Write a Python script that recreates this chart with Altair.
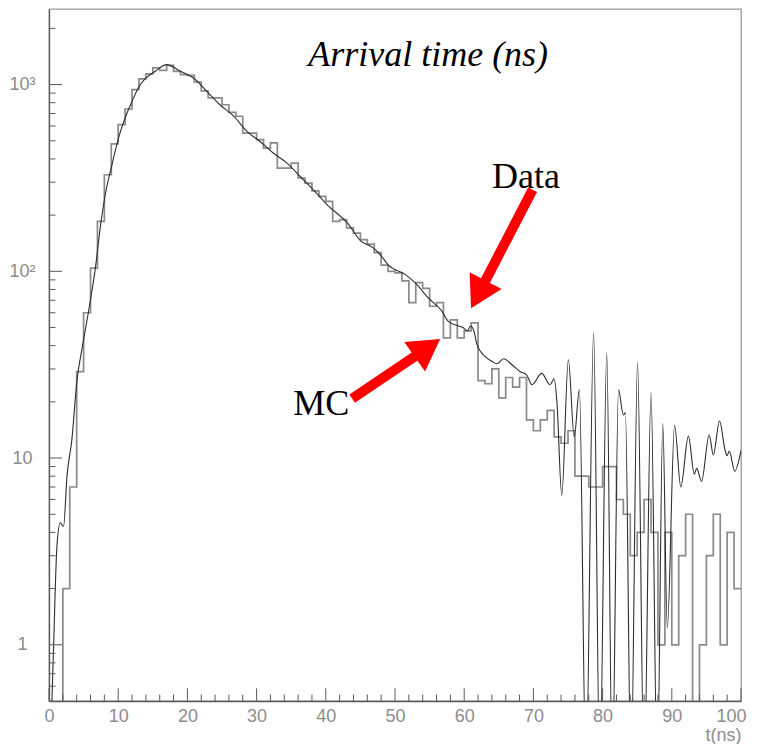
import altair as alt
import pandas as pd

# ---------------- data ----------------
# Data histogram: counts in 1-ns bins, bins [0,1) ... [99,100)
data_counts = [0, 0, 2, 7, 29, 60, 104, 185, 329, 481,
               610, 740, 939, 1072, 1140, 1228, 1191, 1267, 1178, 1130,
               1120, 1030, 925, 848, 848, 780, 710, 677, 550, 550,
               507, 457, 487, 357, 357, 380, 316, 297, 270, 252,
               237, 185, 189, 171, 160, 148, 140, 126, 108, 100,
               98, 89, 68, 87, 81, 65, 68, 44, 55, 44,
               48, 53, 26, 25, 30, 21, 27, 24, 27, 16,
               14, 16, 18, 13, 12, 14, 8, 8, 7, 7,
               9, 9, 6, 5, 3, 4, 6, 4, 1, 4,
               1, 3, 5, 0, 1, 3, 5, 1, 4, 2]

# MC curve (time in ns, value)
mc_t = [0.1, 0.67, 1.15, 1.63, 2.1, 2.6, 3.3, 4.04, 4.8, 5.87, 6.7, 7.4, 8.13, 9.1,
        10.05, 11.0, 12.0, 12.9, 13.9, 15.35, 17.0, 18.97, 20.9, 22.8, 24.7, 26.7,
        28.6, 30.5, 32.4, 34.4, 36.3, 38.2, 40.2, 43.2, 45.0, 46.9, 47.85, 49.05,
        51.5, 52.9, 54.8, 56.8, 57.7, 59.2, 59.8, 60.5, 60.9, 61.4, 61.8, 63.0,
        64.0, 64.7, 65.7, 66.9, 68.1, 69.0, 69.8, 71.2, 72.4, 73.0, 73.4, 74.1,
        75.05, 75.9, 76.65, 77.6, 78.7, 79.6, 80.6, 81.4, 82.3, 83.0, 83.3, 84.1,
        85.05, 86.0, 87.0, 87.9, 88.7, 89.35, 90.4, 91.3, 92.4, 93.25, 93.6, 94.3,
        95.4, 96.0, 96.9, 97.7, 98.0, 98.3, 99.1, 100.0]
mc_v = [0.2, 1.0, 3.4, 4.5, 4.3, 8, 12.5, 26, 39, 66, 104, 171, 257, 372,
        518, 662, 813, 960, 1076, 1178, 1280, 1178, 1085, 920, 780, 677,
        562, 496, 430, 380, 322, 273, 227, 180, 146, 133, 123, 108,
        96, 87, 72, 61, 54, 51, 50, 48, 51, 48, 41, 35,
        33, 32, 34, 31.6, 29, 28, 24.7, 28.4, 24.7, 26.6, 20, 6.3,
        33.6, 13, 23.3, 0.2, 47, 0.2, 36.6, 0.2, 23.3, 17, 17.5, 0.2,
        32.6, 0.2, 22.4, 0.2, 15.3, 1.23, 15, 7, 13.1, 8.2, 8.8, 7.5,
        13.3, 10.4, 15.8, 11, 10.3, 10.9, 8.5, 11]

# axis ticks / labels
x_label_values = [0, 10, 20, 30, 40, 50, 60, 70, 80, 90, 100]
x_minor_values = [v for v in range(2, 100, 2) if v % 10 != 0]
y_label_values = [1, 10, 100, 1000]
y_minor_values = [0.6, 0.7, 0.8, 0.9, 2, 3, 4, 5, 6, 7, 8, 9,
                  20, 30, 40, 50, 60, 70, 80, 90,
                  200, 300, 400, 500, 600, 700, 800, 900, 2000]

# annotations (data coordinates)
title_text = ["Arrival time (ns)"]
title_t = [37.45]
title_v = [1252]
label_text = ["Data", "MC"]
label_t = [64.03, 35.29]
label_v = [280.5, 17.06]
arrow_name = ["Data", "Data", "MC", "MC"]
arrow_t = [69.88, 62.04, 43.81, 54.69]
arrow_v = [273.5, 75.3, 20.8, 38.9]
head_t = [62.04, 54.69]
head_v = [75.3, 38.9]
head_angle = [207.7, 54.9]

# ---------------- chart ----------------
W, H = 692, 692
GRAY = "#8c8c8c"
AXISCOL = "#5a5a5a"

xs = alt.Scale(domain=[0, 100], nice=False, zero=False)
ys = alt.Scale(type="log", domain=[0.5, 2540], nice=False)

x_axis = alt.Axis(values=x_label_values, ticks=False, tickSize=0, grid=False,
                  domainColor=AXISCOL, domainWidth=1.3,
                  labelFont="Liberation Sans", labelFontSize=18, labelColor=GRAY,
                  labelPadding=6, labelFlush=True, labelFlushOffset=5, labelOverlap=False,
                  title="t(ns)", titleFont="Liberation Sans", titleFontSize=18,
                  titleFontWeight="normal", titleColor=GRAY,
                  titleX=W, titleY=34, titleAlign="right", titleBaseline="middle")
y_axis = alt.Axis(values=y_label_values, ticks=False, tickSize=0, grid=False,
                  domainColor=AXISCOL, domainWidth=1.3,
                  labelFont="Liberation Sans", labelFontSize=18, labelColor=GRAY,
                  labelAlign="center", labelBaseline="middle", labelPadding=27,
                  labelOverlap=False,
                  labelExpr="datum.value == 1000 ? '10³' : datum.value == 100 ? '10²' : datum.value == 10 ? '10' : '1'",
                  title=None)


def X():
    return alt.X("t:Q", scale=xs, axis=x_axis, title="t(ns)")


def Y():
    return alt.Y("v:Q", scale=ys, axis=y_axis, title=None)


hist_df = pd.DataFrame({
    "t": list(range(101)),
    "v": [max(c, 0.1) for c in data_counts] + [max(data_counts[-1], 0.1)],
})
mc_df = pd.DataFrame({"t": mc_t, "v": mc_v})

hist = alt.Chart(hist_df).mark_line(
    interpolate="step-after", color="#8a8a8a", strokeWidth=1.7, clip=True
).encode(x=X(), y=Y())

mc = alt.Chart(mc_df).mark_line(
    interpolate="monotone", color="#2e2e2e", strokeWidth=1.1, clip=True
).encode(x=X(), y=Y())

xmaj = alt.Chart(pd.DataFrame({"t": x_label_values})).mark_rule(color=AXISCOL, strokeWidth=1).encode(
    x=X(), y=alt.value(H), y2=alt.value(H - 12.7))
xmin = alt.Chart(pd.DataFrame({"t": x_minor_values})).mark_rule(color=AXISCOL, strokeWidth=1).encode(
    x=X(), y=alt.value(H), y2=alt.value(H - 6.5))
ymaj = alt.Chart(pd.DataFrame({"v": y_label_values})).mark_rule(color=AXISCOL, strokeWidth=1).encode(
    y=Y(), x=alt.value(0), x2=alt.value(13))
ymin = alt.Chart(pd.DataFrame({"v": y_minor_values})).mark_rule(color=AXISCOL, strokeWidth=1).encode(
    y=Y(), x=alt.value(0), x2=alt.value(6.5))

shafts = alt.Chart(pd.DataFrame({"arrow": arrow_name, "t": arrow_t, "v": arrow_v})).mark_line(
    color="#ff0000", strokeWidth=10, strokeCap="butt"
).encode(x=X(), y=Y(), detail="arrow:N")

heads = alt.Chart(pd.DataFrame({"t": head_t, "v": head_v, "ang": head_angle})).mark_point(
    shape="triangle-up", filled=True, size=1300, color="#ff0000", opacity=1, strokeWidth=0
).encode(x=X(), y=Y(), angle=alt.Angle("ang:Q", scale=None))

title = alt.Chart(pd.DataFrame({"t": title_t, "v": title_v, "label": title_text})).mark_text(
    font="Liberation Serif", fontSize=36, fontStyle="italic", align="left",
    baseline="alphabetic", color="black"
).encode(x=X(), y=Y(), text="label:N")

labels = alt.Chart(pd.DataFrame({"t": label_t, "v": label_v, "label": label_text})).mark_text(
    font="Liberation Serif", fontSize=36, align="left", baseline="alphabetic", color="black"
).encode(x=X(), y=Y(), text="label:N")

chart = alt.layer(
    hist, mc, xmaj, xmin, ymaj, ymin, shafts, heads, title, labels
).properties(
    width=W, height=H,
    autosize=alt.AutoSizeParams(type="none"),
    padding={"left": 41, "top": 1, "right": 10, "bottom": 43},
    background="white",
).configure_view(
    stroke="#9a9a9a", strokeWidth=1.3
)

chart.save("out.html", embed_options={"renderer": "svg", "actions": False})
